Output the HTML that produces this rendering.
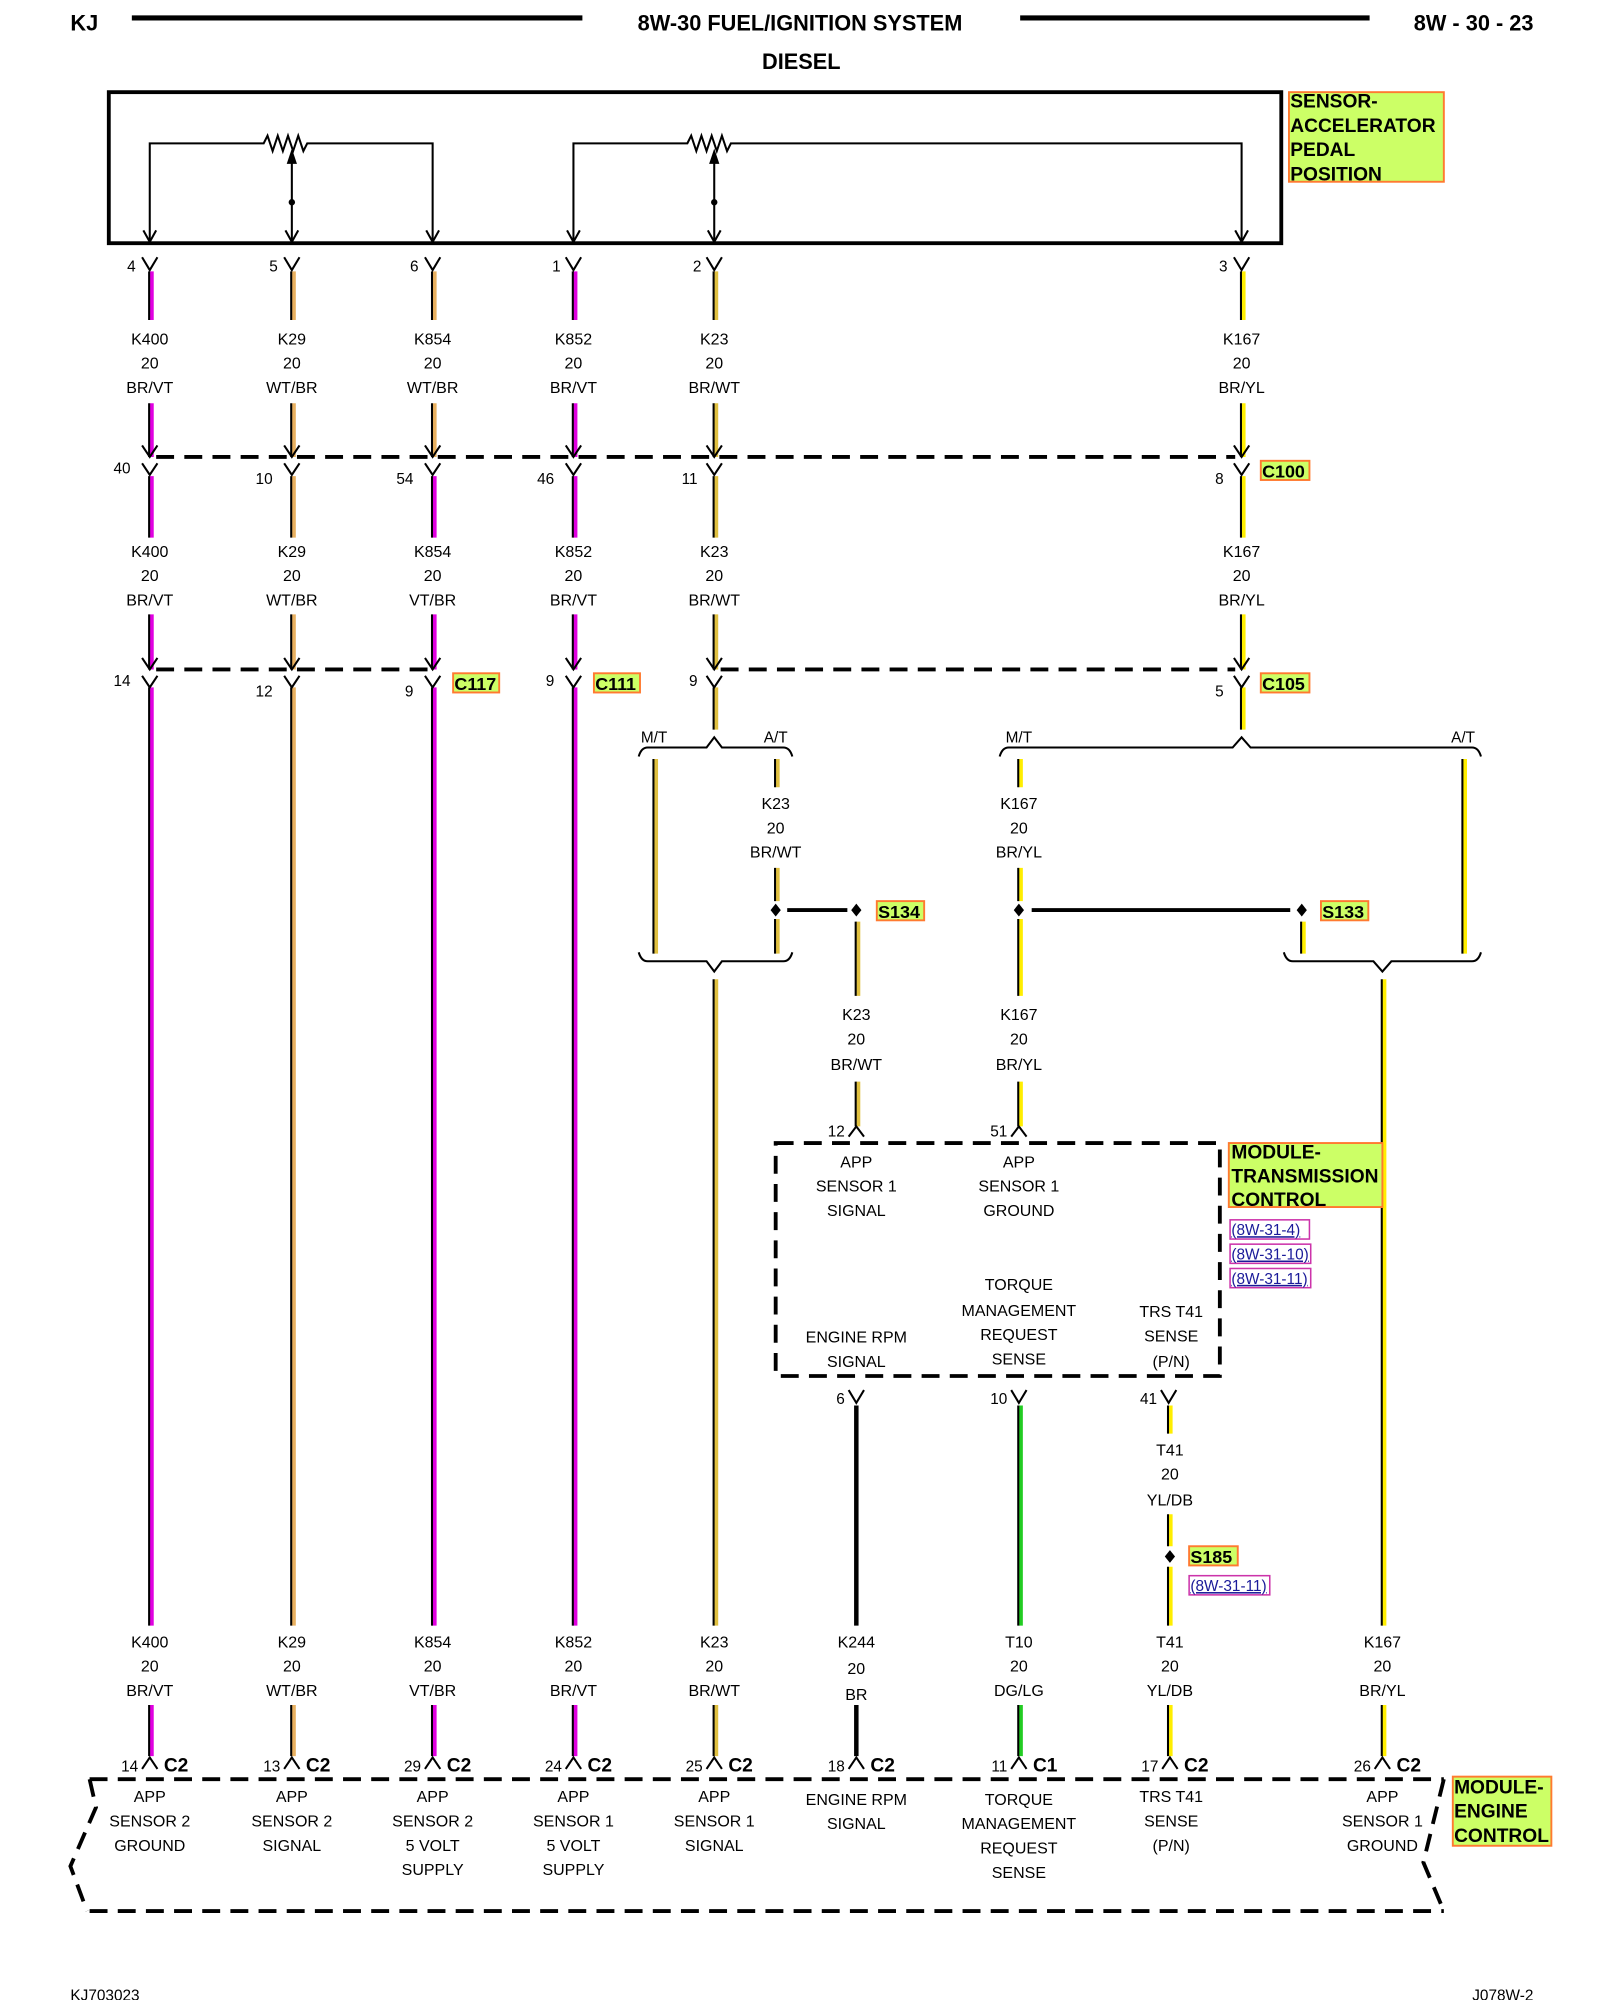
<!DOCTYPE html>
<html><head><meta charset="utf-8"><style>
html,body{margin:0;padding:0;background:#fff;}
svg{display:block;}
text{font-family:"Liberation Sans",Arial,sans-serif;}
.t{font-size:12.5px;text-anchor:middle;fill:#000;}
.p{font-size:12px;text-anchor:end;fill:#000;}
.b{font-size:16px;font-weight:bold;fill:#000;}
.lb{fill:#ccff66;stroke:#ff7a30;stroke-width:1.5;}
.lnk{fill:none;stroke:#cc33aa;stroke-width:1.2;}
.lt{font-size:12px;fill:#1a1a99;text-decoration:underline;}
.k{stroke:#000;stroke-width:1.6;fill:none;}
.d{stroke:#000;stroke-width:3;fill:none;stroke-dasharray:14,8;}
</style></head><body>
<svg width="1600" height="2000" viewBox="0 0 1250 1562.5" xmlns="http://www.w3.org/2000/svg">
<!-- header -->
<text x="55" y="24" class="b" style="font-size:17px">KJ</text>
<line x1="103" y1="14" x2="455" y2="14" stroke="#000" stroke-width="4"/>
<text x="625" y="24" class="b" style="font-size:17px;text-anchor:middle">8W-30 FUEL/IGNITION SYSTEM</text>
<line x1="797" y1="14" x2="1070" y2="14" stroke="#000" stroke-width="4"/>
<text x="1198" y="24" class="b" style="font-size:17px;text-anchor:end">8W - 30 - 23</text>
<text x="626" y="54" class="b" style="font-size:17px;text-anchor:middle">DIESEL</text>

<!-- sensor box -->
<rect x="85" y="72" width="916" height="118" fill="none" stroke="#000" stroke-width="3"/>
<rect x="1007" y="72" width="121" height="70" class="lb"/>
<text class="b" style="font-size:15px"><tspan x="1008" y="84">SENSOR-</tspan><tspan x="1008" y="103">ACCELERATOR</tspan><tspan x="1008" y="122">PEDAL</tspan><tspan x="1008" y="141">POSITION</tspan></text>
<path class="k" d="M117,189 V112 H206 l3,-6 l4,12 l4,-12 l4,12 l4,-12 l4,12 l4,-12 l4,12 l3,-6 H338 V189"/>
<path class="k" d="M448,189 V112 H537 l3,-6 l4,12 l4,-12 l4,12 l4,-12 l4,12 l4,-12 l4,12 l3,-6 H970 V189"/>
<path class="k" d="M228,189 V120 M558,189 V120"/>
<path d="M224,128 L228,116 L232,128 Z M554,128 L558,116 L562,128 Z" fill="#000"/>
<circle cx="228" cy="158" r="2.5"/><circle cx="558" cy="158" r="2.5"/>
<path class="k" d="M112,180 l5,9 l5,-9 M223,180 l5,9 l5,-9 M333,180 l5,9 l5,-9 M443,180 l5,9 l5,-9 M553,180 l5,9 l5,-9 M965,180 l5,9 l5,-9"/>

<!-- wires -->
<g stroke-width="3.2" fill="none">
<!-- col 117 magenta -->
<path stroke="#e000e0" d="M118.5,212V250M118.5,315V357M118.5,372V420M118.5,480V523M118.5,537V1270M118.5,1332V1372"/>
<path stroke="#e000e0" d="M449.5,212V250M449.5,315V357M449.5,372V420M449.5,480V523M449.5,537V1270M449.5,1332V1372"/>
<path stroke="#e000e0" d="M339.5,372V420M339.5,480V523M339.5,537V1270M339.5,1332V1372"/>
<path stroke="#e8b060" d="M339.5,212V250M339.5,315V357"/>
<path stroke="#e8b060" d="M229.5,212V250M229.5,315V357M229.5,372V420M229.5,480V523M229.5,537V1270M229.5,1332V1372"/>
<path stroke="#e0c040" d="M559.5,212V250M559.5,315V357M559.5,372V420M559.5,480V523M559.5,537V570M559.5,765V1270M559.5,1332V1372M512.5,593V745M607.5,593V615M607.5,678V704M607.5,718V745M670.5,720V778M670.5,845V880"/>
<path stroke="#ffee00" d="M971.5,212V250M971.5,315V357M971.5,372V420M971.5,480V523M971.5,537V570M797.5,593V615M797.5,678V704M797.5,718V778M797.5,845V880M1018.5,720V745M1144.5,593V745M1081.5,765V1270M1081.5,1332V1372M914.5,1098V1120M914.5,1183V1208M914.5,1224V1270M914.5,1332V1372"/>
<path stroke="#22cc22" d="M797.5,1098V1270M797.5,1332V1372"/>
</g>
<g stroke="#000" stroke-width="1.6" fill="none">
<path d="M116.5,212V250M116.5,315V357M116.5,372V420M116.5,480V523M116.5,537V1270M116.5,1332V1372"/>
<path d="M447.5,212V250M447.5,315V357M447.5,372V420M447.5,480V523M447.5,537V1270M447.5,1332V1372"/>
<path d="M337.5,212V250M337.5,315V357M337.5,372V420M337.5,480V523M337.5,537V1270M337.5,1332V1372"/>
<path d="M227.5,212V250M227.5,315V357M227.5,372V420M227.5,480V523M227.5,537V1270M227.5,1332V1372"/>
<path d="M557.5,212V250M557.5,315V357M557.5,372V420M557.5,480V523M557.5,537V570M557.5,765V1270M557.5,1332V1372M510.5,593V745M605.5,593V615M605.5,678V704M605.5,718V745M668.5,720V778M668.5,845V880"/>
<path d="M969.5,212V250M969.5,315V357M969.5,372V420M969.5,480V523M969.5,537V570M795.5,593V615M795.5,678V704M795.5,718V778M795.5,845V880M1016.5,720V745M1142.5,593V745M1079.5,765V1270M1079.5,1332V1372M912.5,1098V1120M912.5,1183V1208M912.5,1224V1270M912.5,1332V1372"/>
<path d="M795.5,1098V1270M795.5,1332V1372"/>
</g>
<path d="M669,1098V1270M669,1332V1372" stroke="#000" stroke-width="3.5"/>

<!-- top pin Y symbols -->
<path class="k" d="M111,201l6,10l6,-10M222,201l6,10l6,-10M332,201l6,10l6,-10M442,201l6,10l6,-10M552,201l6,10l6,-10M964,201l6,10l6,-10"/>
<g class="p"><text x="106" y="212">4</text><text x="217" y="212">5</text><text x="327" y="212">6</text><text x="438" y="212">1</text><text x="548" y="212">2</text><text x="959" y="212">3</text></g>

<!-- labels row 1 -->
<g class="t">
<text x="117" y="269">K400</text><text x="117" y="288">20</text><text x="117" y="307">BR/VT</text>
<text x="228" y="269">K29</text><text x="228" y="288">20</text><text x="228" y="307">WT/BR</text>
<text x="338" y="269">K854</text><text x="338" y="288">20</text><text x="338" y="307">WT/BR</text>
<text x="448" y="269">K852</text><text x="448" y="288">20</text><text x="448" y="307">BR/VT</text>
<text x="558" y="269">K23</text><text x="558" y="288">20</text><text x="558" y="307">BR/WT</text>
<text x="970" y="269">K167</text><text x="970" y="288">20</text><text x="970" y="307">BR/YL</text>
<text x="117" y="435">K400</text><text x="117" y="454">20</text><text x="117" y="473">BR/VT</text>
<text x="228" y="435">K29</text><text x="228" y="454">20</text><text x="228" y="473">WT/BR</text>
<text x="338" y="435">K854</text><text x="338" y="454">20</text><text x="338" y="473">VT/BR</text>
<text x="448" y="435">K852</text><text x="448" y="454">20</text><text x="448" y="473">BR/VT</text>
<text x="558" y="435">K23</text><text x="558" y="454">20</text><text x="558" y="473">BR/WT</text>
<text x="970" y="435">K167</text><text x="970" y="454">20</text><text x="970" y="473">BR/YL</text>
</g>

<!-- C100 -->
<line x1="122" y1="357" x2="965" y2="357" class="d" stroke-width="2.5" stroke-dasharray="12,7"/>
<path class="k" d="M111,348l6,9l6,-9M111,362l6,9l6,-9M222,348l6,9l6,-9M222,362l6,9l6,-9M332,348l6,9l6,-9M332,362l6,9l6,-9M442,348l6,9l6,-9M442,362l6,9l6,-9M552,348l6,9l6,-9M552,362l6,9l6,-9M964,348l6,9l6,-9M964,362l6,9l6,-9"/>
<g class="p"><text x="102" y="370">40</text><text x="213" y="378">10</text><text x="323" y="378">54</text><text x="433" y="378">46</text><text x="545" y="378">11</text><text x="956" y="378">8</text></g>
<rect x="985" y="360" width="38" height="15" class="lb"/><text x="986" y="373" class="b" style="font-size:14px">C100</text>

<!-- C117/C111/C105 -->
<line x1="122" y1="523" x2="335" y2="523" class="d" stroke-width="2.5" stroke-dasharray="12,7"/>
<line x1="563" y1="523" x2="965" y2="523" class="d" stroke-width="2.5" stroke-dasharray="12,7"/>
<path class="k" d="M111,514l6,9l6,-9M111,528l6,9l6,-9M222,514l6,9l6,-9M222,528l6,9l6,-9M332,514l6,9l6,-9M332,528l6,9l6,-9M442,514l6,9l6,-9M442,528l6,9l6,-9M552,514l6,9l6,-9M552,528l6,9l6,-9M964,514l6,9l6,-9M964,528l6,9l6,-9"/>
<g class="p"><text x="102" y="536">14</text><text x="213" y="544">12</text><text x="323" y="544">9</text><text x="433" y="536">9</text><text x="545" y="536">9</text><text x="956" y="544">5</text></g>
<rect x="354" y="526" width="36" height="15" class="lb"/><text x="355" y="539" class="b" style="font-size:14px">C117</text>
<rect x="464" y="526" width="36" height="15" class="lb"/><text x="465" y="539" class="b" style="font-size:14px">C111</text>
<rect x="985" y="526" width="38" height="15" class="lb"/><text x="986" y="539" class="b" style="font-size:14px">C105</text>

<!-- splice brackets -->
<path class="k" stroke-width="2" d="M499,591 q2,-7 7,-7 H552 L558,576 L564,584 H612 q5,0 7,7"/>
<path class="k" stroke-width="2" d="M499,744 q2,7 7,7 H552 L558,759 L564,751 H612 q5,0 7,-7"/>
<path class="k" stroke-width="2" d="M781,591 q2,-7 7,-7 H963 L970,576 L977,584 H1150 q5,0 7,7"/>
<path class="k" stroke-width="2" d="M1003,744 q2,7 7,7 H1073 L1080,759 L1087,751 H1150 q5,0 7,-7"/>
<g class="t" style="font-size:12px"><text x="511" y="580">M/T</text><text x="606" y="580">A/T</text><text x="796" y="580">M/T</text><text x="1143" y="580">A/T</text></g>
<g class="t">
<text x="606" y="632">K23</text><text x="606" y="651">20</text><text x="606" y="670">BR/WT</text>
<text x="796" y="632">K167</text><text x="796" y="651">20</text><text x="796" y="670">BR/YL</text>
<text x="669" y="797">K23</text><text x="669" y="816">20</text><text x="669" y="836">BR/WT</text>
<text x="796" y="797">K167</text><text x="796" y="816">20</text><text x="796" y="836">BR/YL</text>
</g>
<line x1="615" y1="711" x2="662" y2="711" stroke="#000" stroke-width="3"/>
<line x1="806" y1="711" x2="1008" y2="711" stroke="#000" stroke-width="3"/>
<g fill="#000"><path d="M606,706l4,5l-4,5l-4,-5z M669,706l4,5l-4,5l-4,-5z M796,706l4,5l-4,5l-4,-5z M1017,706l4,5l-4,5l-4,-5z M914,1211l4,5l-4,5l-4,-5z"/></g>
<rect x="685" y="704" width="37" height="15" class="lb"/><text x="686" y="717" class="b" style="font-size:14px">S134</text>
<rect x="1032" y="704" width="37" height="15" class="lb"/><text x="1033" y="717" class="b" style="font-size:14px">S133</text>

<!-- TCM -->
<path class="k" d="M663,888l6,-8l6,8M790,888l6,-8l6,8"/>
<g class="p"><text x="660" y="888">12</text><text x="787" y="888">51</text></g>
<rect x="606" y="893" width="347" height="182" class="d" stroke-width="2.5" stroke-dasharray="13,7"/>
<rect x="960" y="893" width="120" height="50" class="lb"/>
<text class="b" style="font-size:15px"><tspan x="962" y="905">MODULE-</tspan><tspan x="962" y="924">TRANSMISSION</tspan><tspan x="962" y="942">CONTROL</tspan></text>
<rect x="961" y="953" width="62" height="15" class="lnk"/><text x="962" y="965" class="lt">(8W-31-4)</text>
<rect x="961" y="972" width="63" height="15" class="lnk"/><text x="962" y="984" class="lt">(8W-31-10)</text>
<rect x="961" y="991" width="63" height="15" class="lnk"/><text x="962" y="1003" class="lt">(8W-31-11)</text>
<g class="t">
<text x="669" y="912">APP</text><text x="669" y="931">SENSOR 1</text><text x="669" y="950">SIGNAL</text>
<text x="796" y="912">APP</text><text x="796" y="931">SENSOR 1</text><text x="796" y="950">GROUND</text>
<text x="796" y="1008">TORQUE</text><text x="796" y="1028">MANAGEMENT</text><text x="796" y="1047">REQUEST</text><text x="796" y="1066">SENSE</text>
<text x="669" y="1049">ENGINE RPM</text><text x="669" y="1068">SIGNAL</text>
<text x="915" y="1029">TRS T41</text><text x="915" y="1048">SENSE</text><text x="915" y="1068">(P/N)</text>
</g>
<path class="k" d="M663,1086l6,10l6,-10M790,1086l6,10l6,-10M907,1086l6,10l6,-10"/>
<g class="p"><text x="660" y="1097">6</text><text x="787" y="1097">10</text><text x="904" y="1097">41</text></g>
<g class="t"><text x="914" y="1137">T41</text><text x="914" y="1156">20</text><text x="914" y="1176">YL/DB</text></g>
<rect x="929" y="1208" width="38" height="15" class="lb"/><text x="930" y="1221" class="b" style="font-size:14px">S185</text>
<rect x="929" y="1231" width="63" height="15" class="lnk"/><text x="930" y="1243" class="lt">(8W-31-11)</text>

<!-- bottom labels -->
<g class="t">
<text x="117" y="1287">K400</text><text x="117" y="1306">20</text><text x="117" y="1325">BR/VT</text>
<text x="228" y="1287">K29</text><text x="228" y="1306">20</text><text x="228" y="1325">WT/BR</text>
<text x="338" y="1287">K854</text><text x="338" y="1306">20</text><text x="338" y="1325">VT/BR</text>
<text x="448" y="1287">K852</text><text x="448" y="1306">20</text><text x="448" y="1325">BR/VT</text>
<text x="558" y="1287">K23</text><text x="558" y="1306">20</text><text x="558" y="1325">BR/WT</text>
<text x="669" y="1287">K244</text><text x="669" y="1308">20</text><text x="669" y="1328">BR</text>
<text x="796" y="1287">T10</text><text x="796" y="1306">20</text><text x="796" y="1325">DG/LG</text>
<text x="914" y="1287">T41</text><text x="914" y="1306">20</text><text x="914" y="1325">YL/DB</text>
<text x="1080" y="1287">K167</text><text x="1080" y="1306">20</text><text x="1080" y="1325">BR/YL</text>
</g>
<path class="k" d="M111,1382l6,-9l6,9M222,1382l6,-9l6,9M332,1382l6,-9l6,9M442,1382l6,-9l6,9M552,1382l6,-9l6,9M663,1382l6,-9l6,9M790,1382l6,-9l6,9M908,1382l6,-9l6,9M1074,1382l6,-9l6,9"/>
<g class="p"><text x="108" y="1384">14</text><text x="219" y="1384">13</text><text x="329" y="1384">29</text><text x="439" y="1384">24</text><text x="549" y="1384">25</text><text x="660" y="1384">18</text><text x="787" y="1384">11</text><text x="905" y="1384">17</text><text x="1071" y="1384">26</text></g>
<g class="b" style="font-size:15px"><text x="128" y="1384">C2</text><text x="239" y="1384">C2</text><text x="349" y="1384">C2</text><text x="459" y="1384">C2</text><text x="569" y="1384">C2</text><text x="680" y="1384">C2</text><text x="807" y="1384">C1</text><text x="925" y="1384">C2</text><text x="1091" y="1384">C2</text></g>

<!-- ECM -->
<line x1="70" y1="1390" x2="1128" y2="1390" class="d" stroke-width="3" stroke-dasharray="13,7"/>
<line x1="70" y1="1493" x2="1128" y2="1493" class="d" stroke-width="3" stroke-dasharray="13,7"/>
<path class="d" stroke-width="2" stroke-dasharray="13,7" d="M70,1390 L75,1412 L55,1458 L68,1493 M1128,1390 L1112,1455 L1128,1493"/>
<rect x="1135" y="1388" width="77" height="54" class="lb"/>
<text class="b" style="font-size:15px"><tspan x="1136" y="1401">MODULE-</tspan><tspan x="1136" y="1420">ENGINE</tspan><tspan x="1136" y="1439">CONTROL</tspan></text>
<g class="t">
<text x="117" y="1408">APP</text><text x="117" y="1427">SENSOR 2</text><text x="117" y="1446">GROUND</text>
<text x="228" y="1408">APP</text><text x="228" y="1427">SENSOR 2</text><text x="228" y="1446">SIGNAL</text>
<text x="338" y="1408">APP</text><text x="338" y="1427">SENSOR 2</text><text x="338" y="1446">5 VOLT</text><text x="338" y="1465">SUPPLY</text>
<text x="448" y="1408">APP</text><text x="448" y="1427">SENSOR 1</text><text x="448" y="1446">5 VOLT</text><text x="448" y="1465">SUPPLY</text>
<text x="558" y="1408">APP</text><text x="558" y="1427">SENSOR 1</text><text x="558" y="1446">SIGNAL</text>
<text x="669" y="1410">ENGINE RPM</text><text x="669" y="1429">SIGNAL</text>
<text x="796" y="1410">TORQUE</text><text x="796" y="1429">MANAGEMENT</text><text x="796" y="1448">REQUEST</text><text x="796" y="1467">SENSE</text>
<text x="915" y="1408">TRS T41</text><text x="915" y="1427">SENSE</text><text x="915" y="1446">(P/N)</text>
<text x="1080" y="1408">APP</text><text x="1080" y="1427">SENSOR 1</text><text x="1080" y="1446">GROUND</text>
</g>
<text x="55" y="1563" style="font-size:12px">KJ703023</text>
<text x="1198" y="1563" style="font-size:12px;text-anchor:end">J078W-2</text>
</svg>
</body></html>
